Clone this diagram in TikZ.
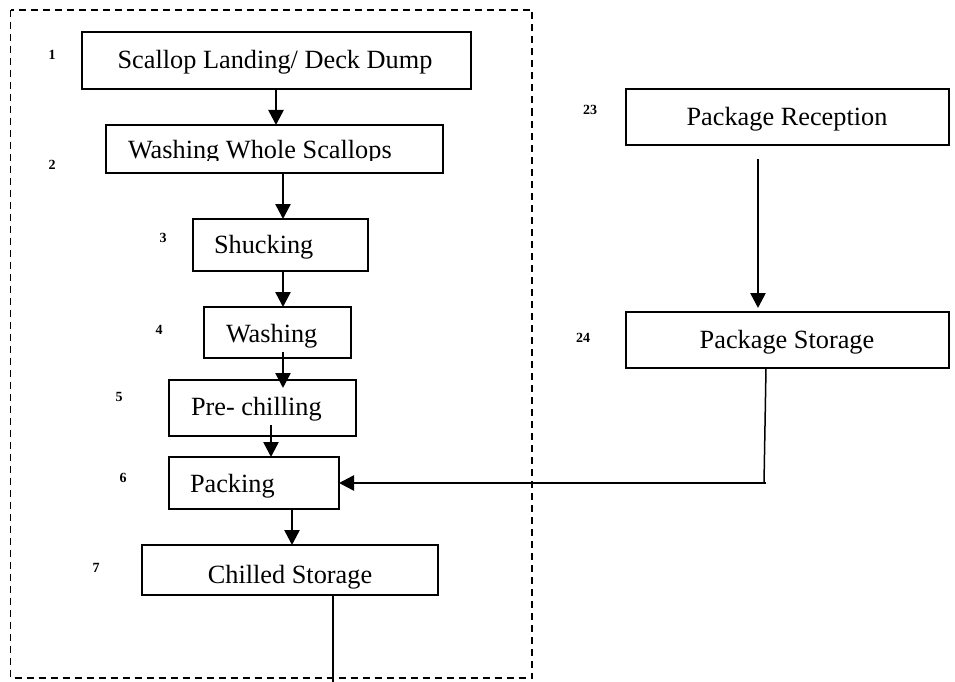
\documentclass[tikz,border=0pt]{standalone}
\usepackage{fontspec}
\setmainfont{Liberation Serif}
\usetikzlibrary{arrows.meta}
\tikzset{
  boxnode/.style={draw=black, line width=1.8pt, inner sep=0pt, outer sep=0pt, rectangle},
  txt/.style={inner sep=0pt, outer sep=0pt, font=\fontsize{26.3}{30}\selectfont},
  num/.style={inner sep=0pt, outer sep=0pt, font=\fontsize{14}{16}\selectfont\bfseries},
  arr/.style={line width=2.6pt, -{Triangle[length=15pt,width=15pt]}},
  conn/.style={line width=2.6pt},
  thinconn/.style={line width=1.5pt},
  frame/.style={line width=1.7pt, dash pattern=on 7pt off 5pt}
}
\begin{document}
\begin{tikzpicture}[x=1pt,y=-1pt]
\useasboundingbox (0,0) rectangle (955,682);
% dashed frame
\draw[frame] (10.5,10) rectangle (532,678);
% boxes
\node[boxnode, minimum width=389pt, minimum height=57pt] (b1) at (276.5,60.5) {};
\node[boxnode, minimum width=337pt, minimum height=48pt] (b2) at (274.5,149) {};
\node[boxnode, minimum width=175pt, minimum height=52pt] (b3) at (280.5,245) {};
\node[boxnode, minimum width=147pt, minimum height=51pt] (b4) at (277.5,332.5) {};
\node[boxnode, minimum width=187pt, minimum height=56pt] (b5) at (262.5,408) {};
\node[boxnode, minimum width=170pt, minimum height=52pt] (b6) at (254,483) {};
\node[boxnode, minimum width=296pt, minimum height=50pt] (b7) at (290,570) {};
\node[boxnode, minimum width=323pt, minimum height=56pt] (b23) at (787.5,117) {};
\node[boxnode, minimum width=323pt, minimum height=56pt] (b24) at (787.5,340) {};
% texts
\node[txt, anchor=base] (t1) at (275,69) {Scallop Landing/ Deck Dump};
\begin{scope}
\clip (100,120) rectangle (450,160);
\node[txt, anchor=base west] (t2) at (128,158.5) {Washing Whole Scallops};
\end{scope}
\node[txt, anchor=base west] (t3) at (214,253) {Shucking};
\node[txt, anchor=base west] (t4) at (226,342) {Washing};
\node[txt, anchor=base west] (t5) at (191,415) {Pre- chilling};
\node[txt, anchor=base west] (t6) at (190,492) {Packing};
\node[txt, anchor=base] (t7) at (290,583) {Chilled Storage};
\node[txt, anchor=base] (t23) at (787,125) {Package Reception};
\node[txt, anchor=base] (t24) at (787,348) {Package Storage};
% numbers
\node[num] (n1) at (52,55) {1};
\node[num] (n2) at (52,165) {2};
\node[num] (n3) at (163,238) {3};
\node[num] (n4) at (159,330) {4};
\node[num] (n5) at (119,397) {5};
\node[num] (n6) at (123,478) {6};
\node[num] (n7) at (96,568) {7};
\node[num] (n23) at (590,110) {23};
\node[num] (n24) at (583,338) {24};
% connector x positions
\coordinate (xa) at (276,0);
\coordinate (xb) at (283,0);
\coordinate (xc) at (271,0);
\coordinate (xd) at (292,0);
\coordinate (xe) at (758,0);
\coordinate (xf) at (766,0);
\coordinate (corner) at (764,483);
\coordinate (bottomend) at (333,682);
% arrows
\draw[arr] (b1.south -| xa) -- (b2.north -| xa);
\draw[arr] (b2.south -| xb) -- (b3.north -| xb);
\draw[arr] (b3.south -| xb) -- (b4.north -| xb);
\draw[arr, shorten <=-6pt, shorten >=-8pt] (b4.south -| xb) -- (b5.north -| xb);
\draw[arr, shorten <=-11pt] (b5.south -| xc) -- (b6.north -| xc);
\draw[arr] (b6.south -| xd) -- (b7.north -| xd);
\draw[arr, shorten <=14pt, shorten >=4pt] (b23.south -| xe) -- (b24.north -| xe);
\draw[thinconn] (b24.south -| xf) -- (corner);
\draw[arr] (corner -| xf) -- (b6.east);
\draw[conn] (b7.south -| bottomend) -- (bottomend);
\end{tikzpicture}
\end{document}
